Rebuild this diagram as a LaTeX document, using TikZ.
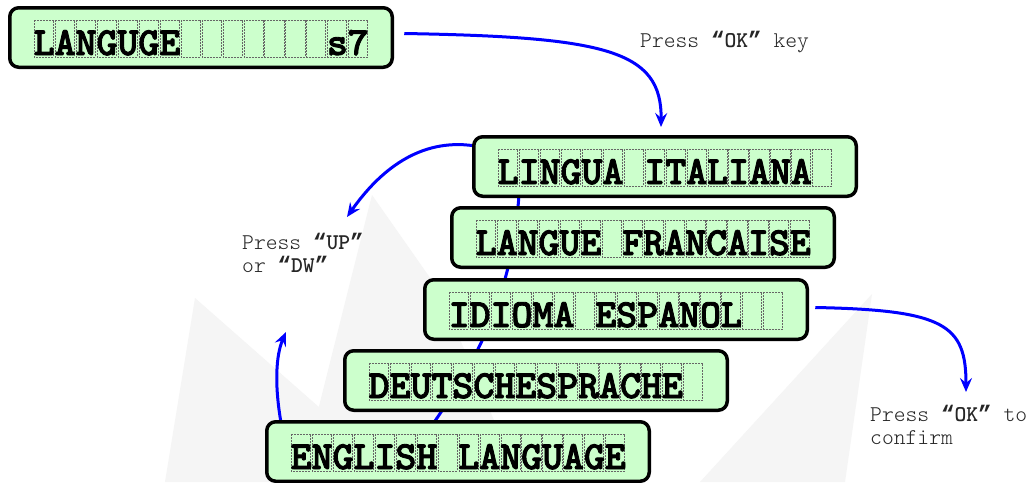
\documentclass[tikz,border=0pt]{standalone}
\usepackage{fontspec}
\usetikzlibrary{arrows.meta,calc}
\newfontfamily\lcdfont{lmmonolt10-bold}[Extension=.otf,FakeBold=2.2]
\newfontfamily\quotefont{Liberation Mono}
\newcommand\key[1]{\textbf{{\quotefont\bfseries “}#1{\quotefont\bfseries ”}}}
\definecolor{lcdgreen}{RGB}{204,255,204}
\definecolor{flowblue}{RGB}{0,0,255}
\definecolor{wmgray}{RGB}{245,245,245}
\pgfdeclarelayer{back}
\pgfsetlayers{back,main}
\tikzset{
  lcdbox/.style={draw=black,line width=3.5pt,rounded corners=9pt,fill=lcdgreen,
    minimum width=382.5pt,minimum height=59.5pt,inner sep=0pt,outer sep=0pt,anchor=north west},
  cell/.style={draw=black!60,line width=0.75pt,dash pattern=on 2pt off 1pt},
  lcdtext/.style={font=\lcdfont\fontsize{39.9}{40}\selectfont,inner sep=0pt,anchor=base west},
  flow/.style={draw=flowblue,line width=3pt,-{Stealth[length=14pt,width=12pt,inset=5pt]}},
  hint/.style={font=\ttfamily\fontseries{l}\fontsize{22.5}{23}\selectfont,inner sep=0pt,align=left,text=black!85},
}
% one LCD panel: name, left, top, characters
\newcommand\lcdpanel[4]{%
  \node[lcdbox] (#1) at (#2+1.75,#3+1.75) {};
  \foreach \k in {0,...,15}
    \draw[cell] ({#2+25.5+\k*20.9475+0.9},{#3+14}) rectangle ({#2+25.5+(\k+1)*20.9475-0.9},{#3+51});
  \node[lcdtext] at (#2+25.5,#3+49) {#4};
}
\begin{document}
\begin{tikzpicture}[x=1pt,y=-1pt]
\clip (0,0) rectangle (1033,482);
% white page with a faint logo in the backdrop
\begin{pgfonlayer}{back}
  \fill[white] (0,0) rectangle (1033,482);
  \fill[wmgray] (372,195) -- (440,292) -- (520,482) -- (300,482) -- cycle;
  \fill[wmgray] (872,294) -- (845,482) -- (700,482) -- cycle;
  \fill[wmgray] (195,298) -- (345,430) -- (280,482) -- (165,482) -- cycle;
\end{pgfonlayer}

\lcdpanel{menu}{8}{6}{LANGUGE\hspace{146.63pt}s7}
\lcdpanel{ital}{472}{135}{LINGUA ITALIANA}
\lcdpanel{fran}{450}{206}{LANGUE FRANCAISE}
\lcdpanel{espa}{423}{278}{IDIOMA ESPANOL}
\lcdpanel{deut}{343}{349}{DEUTSCHESPRACHE}
\lcdpanel{engl}{265}{420}{ENGLISH LANGUAGE}

\node[hint,anchor=base west] (okkey) at (640,47) {Press \key{OK} key};
\node[hint,anchor=north west] (updw) at (242,233) {Press \key{UP}\\or \key{DW}};
\node[hint,anchor=north west] (okconf) at (870,405) {Press \key{OK} to\\confirm};

\coordinate (okTip) at (661,127);
\coordinate (upTip) at (347,217);
\coordinate (dwTip) at (286,332);
\coordinate (cfTip) at (966,392);

\begin{pgfonlayer}{back}
  % the list scrolls through every language
  \draw[draw=flowblue,line width=3pt]
    ($(ital.south west)+(46,-15)$) .. controls (515,290) and (480,360) .. ($(engl.north west)+(150,25)$);
  \draw[flow] ([yshift=-9pt]ital.north west) .. controls (420,138) and (380,170) .. (upTip);
  \draw[flow] ([xshift=15pt,yshift=-5pt]engl.north west) .. controls (274,385) and (276,355) .. (dwTip);
\end{pgfonlayer}
\draw[flow] ([xshift=12pt,yshift=4pt]menu.east) .. controls (605,37) and (662,50) .. (okTip);
\draw[flow] ([xshift=8pt,yshift=2pt]espa.east) .. controls (945,310) and (966,325) .. (cfTip);
\end{tikzpicture}
\end{document}
